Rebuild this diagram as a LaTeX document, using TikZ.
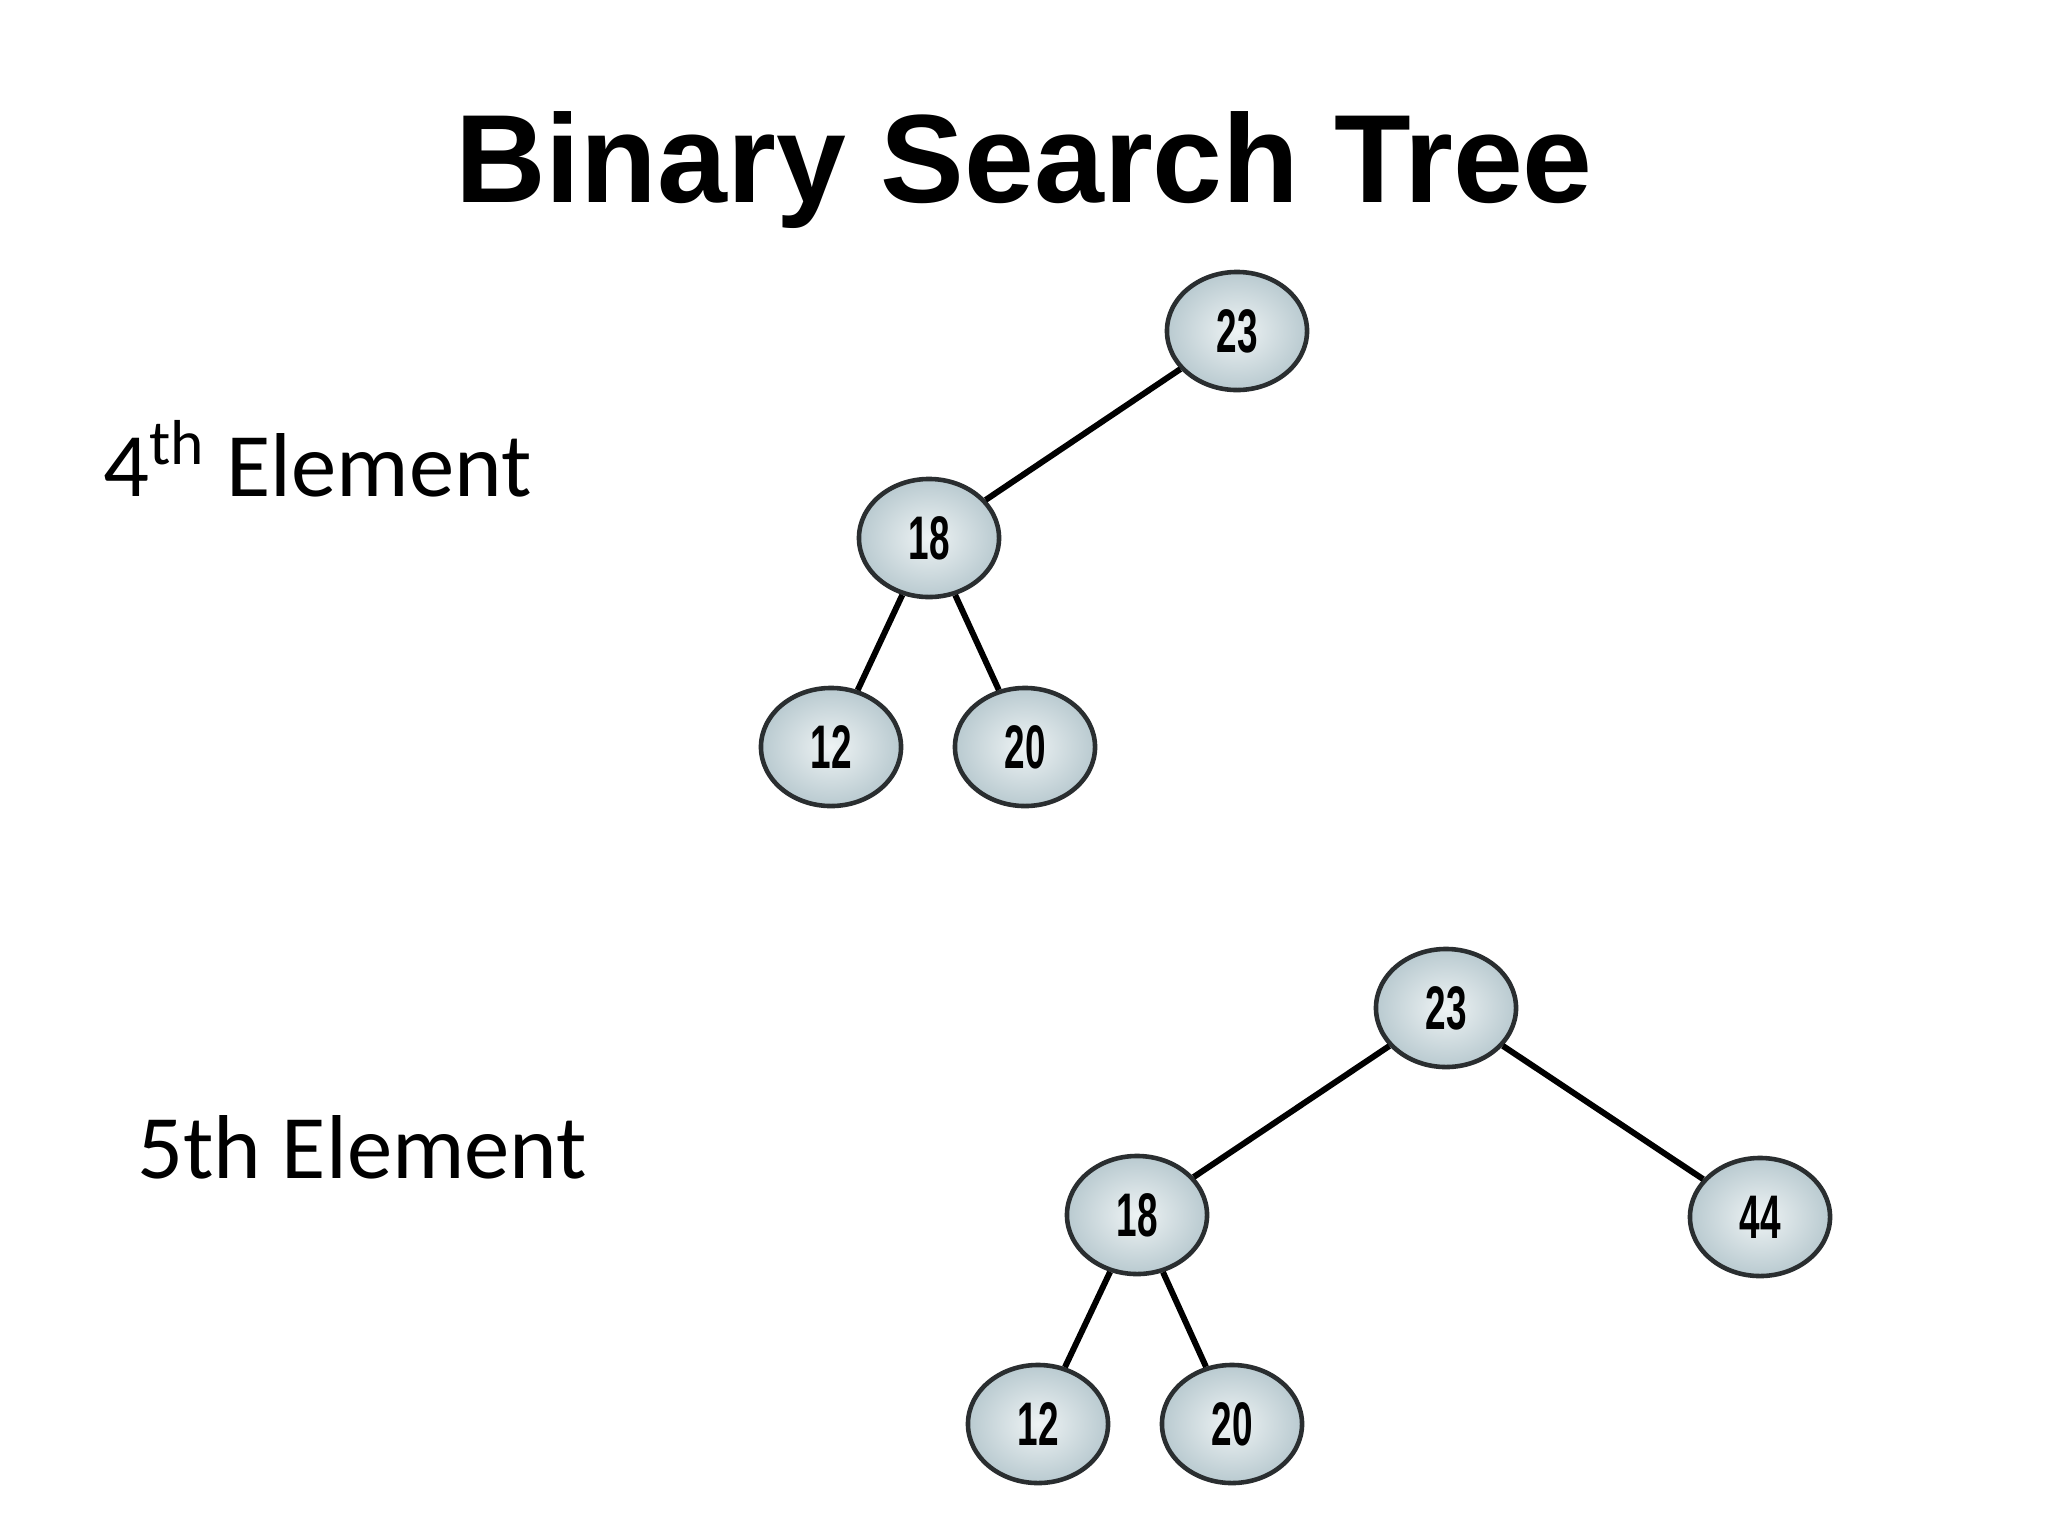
\documentclass[tikz,border=0pt]{standalone}
\usepackage{fontspec}
\setmainfont{Carlito}
\newfontfamily\titlefont{Liberation Sans}
\newfontfamily\keyfont{Liberation Sans}[FakeStretch=0.6]
\usetikzlibrary{shapes.geometric}
\definecolor{keyline}{HTML}{2A2E30}
\definecolor{keyin}{HTML}{EEF3F4}
\definecolor{keyout}{HTML}{B9CAD0}
\begin{document}
\begin{tikzpicture}[x=0.01cm, y=-0.01cm,
        key/.style={ellipse, draw=keyline, line width=1.3pt, inner sep=0pt,
            minimum width=1.4cm, minimum height=1.18cm,
            inner color=keyin, outer color=keyout,
            font=\keyfont\bfseries\fontsize{17.5}{20}\selectfont},
        edge/.style={line width=1.7pt, black},
        label/.style={anchor=base west, font=\fontsize{25.8}{30}\selectfont}]
        \useasboundingbox[fill=white] (0,0) rectangle (2048,1536);
        % heading
        \node[anchor=base, font=\titlefont\bfseries\fontsize{35.7}{42}\selectfont] (title) at (1024,202) {Binary Search Tree};
        \node[label] (lab4) at (91,496) {4\textsuperscript{th} Element};
        \node[label] (lab5) at (125,1178) {5th Element};
        % tree after the 4th element
        \node[key] (a23) at (1237,331) {23};
        \node[key] (a18) at (929,538) {18};
        \node[key] (a12) at (831,747) {12};
        \node[key] (a20) at (1025,747) {20};
        \draw[edge] (a23) -- (a18);
        \draw[edge] (a18) -- (a12);
        \draw[edge] (a18) -- (a20);
        % tree after the 5th element
        \node[key] (b23) at (1446,1008) {23};
        \node[key] (b18) at (1137,1215) {18};
        \node[key] (b44) at (1760,1217) {44};
        \node[key] (b12) at (1038,1424) {12};
        \node[key] (b20) at (1232,1424) {20};
        \draw[edge] (b23) -- (b18);
        \draw[edge] (b23) -- (b44);
        \draw[edge] (b18) -- (b12);
        \draw[edge] (b18) -- (b20);
\end{tikzpicture}
\end{document}
